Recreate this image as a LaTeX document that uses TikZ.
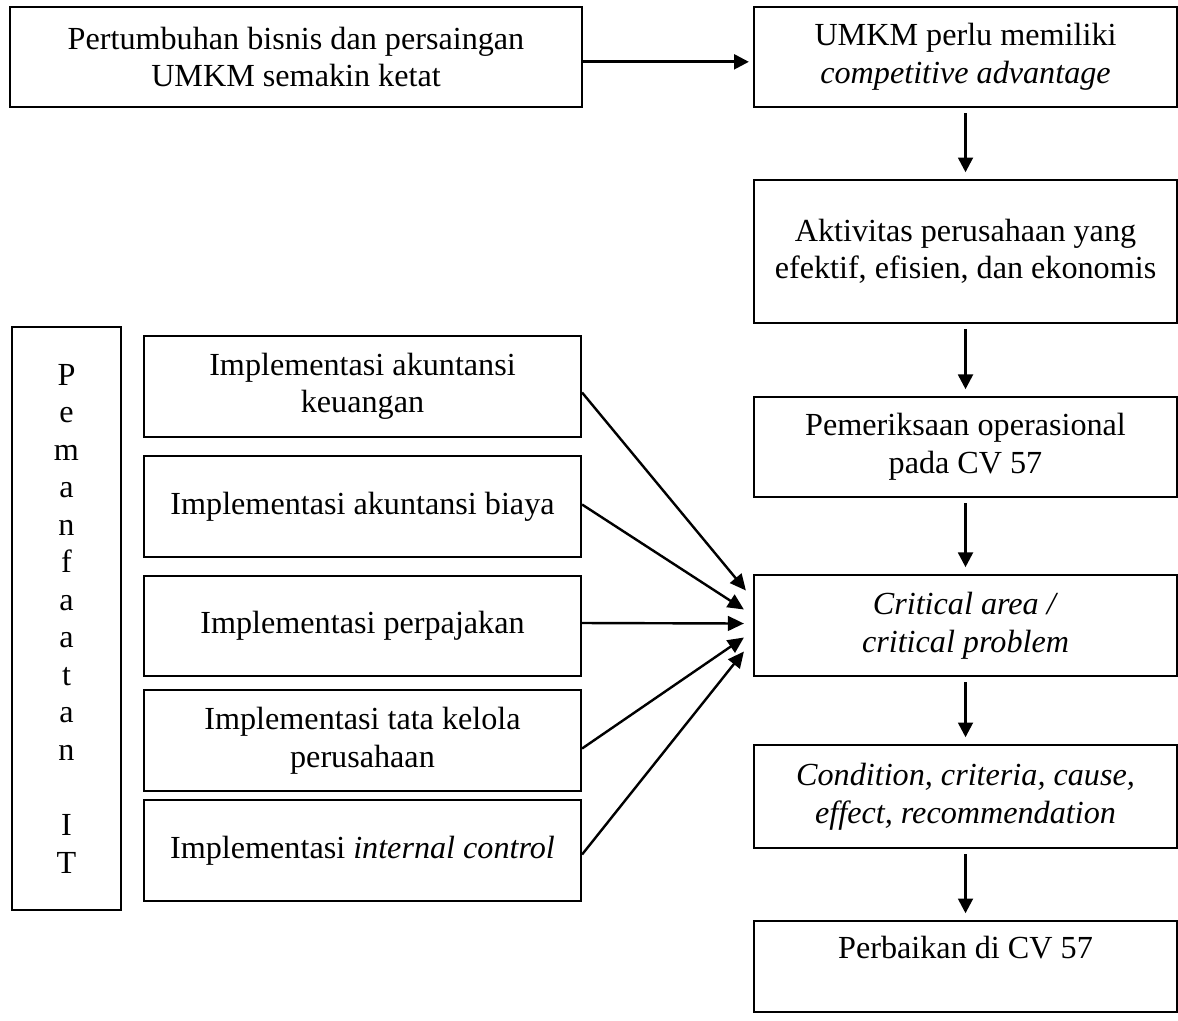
\documentclass[tikz,border=0pt]{standalone}
\usepackage{fontspec}
\setmainfont{Liberation Serif}
\usepackage{tikz}
\usetikzlibrary{arrows.meta,calc}
\tikzset{
  box/.style={draw=black, line width=0.8pt, align=center, inner sep=0pt, font=\fontsize{12}{14}\selectfont},
  rbox/.style={box, minimum width=157.8pt},
  lbox/.style={box, minimum width=163pt, minimum height=37.6pt},
  arr/.style={-{Triangle[length=5.5pt,width=5.5pt]}, line width=1pt, shorten <=2pt, shorten >=2.5pt},
  fan/.style={-{Triangle[length=6pt,width=5.5pt]}, line width=0.9pt}
}

\begin{document}
\begin{tikzpicture}[x=0.373pt,y=-0.373pt]
  \useasboundingbox (0,0) rectangle (1178,1020);

  % top row
  \node[box, minimum width=213.4pt, minimum height=37.3pt] (grow) at (296,57)
    {Pertumbuhan bisnis dan persaingan\\UMKM semakin ketat};
  \node[rbox, minimum height=37.3pt] (adv) at (965.5,57)
    {UMKM perlu memiliki\\\textit{competitive advantage}};

  % right column
  \node[rbox, minimum height=53.3pt] (aktiv) at (965.5,251.5)
    {Aktivitas perusahaan yang\\efektif, efisien, dan ekonomis};
  \node[rbox, minimum height=37.3pt] (periksa) at (965.5,447)
    {Pemeriksaan operasional\\pada CV 57};
  \node[rbox, minimum height=37.7pt] (crit) at (965.5,625.5)
    {\textit{Critical area /}\\\textit{critical problem}};
  \node[rbox, minimum height=38.4pt] (cond) at (965.5,796.5)
    {\textit{Condition, criteria, cause,}\\\textit{effect, recommendation}};
  \node[rbox, minimum height=33.9pt] (fix) at (965.5,966.5)
    {Perbaikan di CV 57\\~};

  % left side
  \node[box, minimum width=40.7pt, minimum height=217.5pt] (it) at (66.5,618.5)
    {P\\e\\m\\a\\n\\f\\a\\a\\t\\a\\n\\~\\I\\T};
  \node[lbox] (impA) at (362.5,386.5) {Implementasi akuntansi\\keuangan};
  \node[lbox] (impB) at (362.5,506.5) {Implementasi akuntansi biaya};
  \node[lbox] (impC) at (362.5,626) {Implementasi perpajakan};
  \node[lbox] (impD) at (362.5,740.5) {Implementasi tata kelola\\perusahaan};
  \node[lbox] (impE) at (362.5,850.5) {Implementasi \textit{internal control}};

  % flow arrows
  \draw[arr, shorten <=0pt, shorten >=1.5pt] ([yshift=-1.8pt]grow.east) -- ([yshift=-1.8pt]adv.west);
  \draw[arr] (adv) -- (aktiv);
  \draw[arr] (aktiv) -- (periksa);
  \draw[arr] (periksa) -- (crit);
  \draw[arr] (crit) -- (cond);
  \draw[arr] (cond) -- (fix);

  % fan into critical area
  \coordinate (tA) at ($(crit.west)+(-7,-35)$);
  \coordinate (tB) at ($(crit.west)+(-9,-16)$);
  \coordinate (tC) at ($(crit.west)+(-9,-2)$);
  \coordinate (tD) at ($(crit.west)+(-9,12)$);
  \coordinate (tE) at ($(crit.west)+(-9,26)$);
  \draw[fan] ($(impA.east)+(0,6)$) -- (tA);
  \draw[fan] ($(impB.east)+(0,-2)$) -- (tB);
  \draw[fan] ($(impC.east)+(0,-3)$) -- (tC);
  \draw[fan] ($(impD.east)+(0,8)$) -- (tD);
  \draw[fan] ($(impE.east)+(0,4)$) -- (tE);
\end{tikzpicture}
\end{document}
